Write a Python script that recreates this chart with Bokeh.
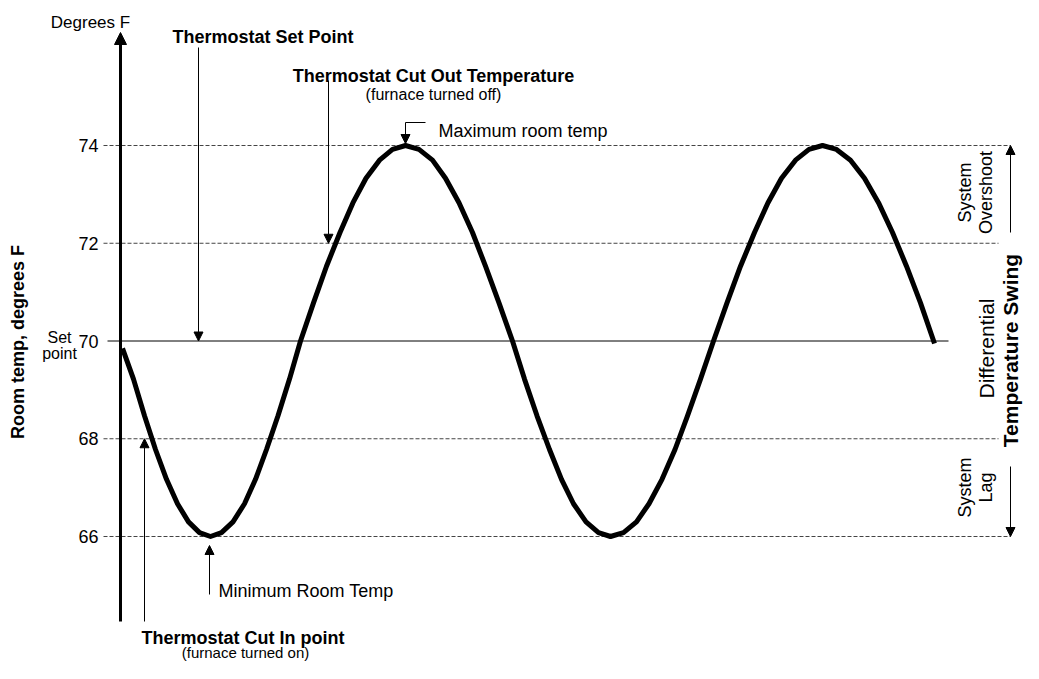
import math
from bokeh.plotting import figure
from bokeh.models import Range1d, Label, Arrow, NormalHead
from bokeh.embed import file_html
from bokeh.resources import INLINE

# ---- data ----
time_min = [2, 13, 24, 35, 46, 57, 68, 79, 90,
            101, 112.5, 124, 135, 146, 157.5, 169, 180,
            193, 206, 219.5, 232.5, 245.5, 259, 272, 285,
            298.5, 312, 325, 338.5, 352, 365, 378.5, 392,
            404, 416.5, 429, 441, 453, 465.5, 478, 490,
            503, 516, 528.5, 541.5, 554.5, 567, 580, 593,
            606.5, 620, 634, 647.5, 661, 675, 688.5, 702,
            716, 730, 744, 758, 772, 786, 800, 814]
room_temp = [69.85, 69.22, 68.47, 67.78, 67.17, 66.67, 66.30, 66.08, 66.00,
             66.08, 66.30, 66.67, 67.17, 67.78, 68.47, 69.22, 70.00,
             70.78, 71.53, 72.22, 72.83, 73.33, 73.70, 73.92, 74.00,
             73.92, 73.70, 73.33, 72.83, 72.22, 71.53, 70.78, 70.00,
             69.22, 68.47, 67.78, 67.17, 66.67, 66.30, 66.08, 66.00,
             66.08, 66.30, 66.67, 67.17, 67.78, 68.47, 69.22, 70.00,
             70.78, 71.53, 72.22, 72.83, 73.33, 73.70, 73.92, 74.00,
             73.92, 73.70, 73.33, 72.83, 72.22, 71.53, 70.78, 69.95]
ref_levels = [74, 72, 68, 66]
set_point = 70
cut_out = 72
cut_in = 68
max_temp = 74
min_temp = 66
tick_values = [74, 72, 70, 68, 66]
tick_labels = ["74", "72", "70", "68", "66"]

# ---- layout helpers (canvas pixel -> data) ----
W, H = 1023, 663
X0 = 120.0
PX_PER_DEG = 48.875
Y70 = 340.5


def tx(X):
    return X - X0


def ty(Y):
    return 70 - (Y - Y70) / PX_PER_DEG


FONT = "Liberation Sans"

p = figure(width=W, height=H,
           x_range=Range1d(tx(0), tx(W)),
           y_range=Range1d(ty(H), ty(0)),
           output_backend="svg", toolbar_location=None,
           x_axis_type=None, y_axis_type=None,
           min_border=0, outline_line_color=None,
           background_fill_color="white", border_fill_color="white")

RX = 1010  # x of the temperature swing arrow

# dashed reference lines
x_ends = [tx(RX) if lv in (max_temp, min_temp) else tx(RX - 12) for lv in ref_levels]
p.segment(x0=[tx(103)] * len(ref_levels), y0=ref_levels,
          x1=x_ends, y1=ref_levels,
          line_color="#444444", line_width=1, line_dash="4 2")
# set point line
p.segment(x0=[tx(107)], y0=[set_point], x1=[tx(948)], y1=[set_point],
          line_color="black", line_width=1)

# temperature curve
p.line(time_min, room_temp, line_color="black", line_width=5,
       line_join="round", line_cap="butt")


def arrow(x0, y0, x1, y1, lw=1, size=9):
    p.add_layout(Arrow(x_start=x0, y_start=y0, x_end=x1, y_end=y1,
                       line_color="black", line_width=lw,
                       end=NormalHead(size=size, fill_color="black",
                                      line_color="black", line_width=1)))


BOTTOM = 621
# vertical axis with arrow
arrow(0, ty(BOTTOM), 0, ty(32), lw=3, size=12)

# annotation arrows
arrow(tx(198), ty(47), tx(198), set_point)          # set point
arrow(tx(328), ty(80), tx(328), cut_out)            # cut out
arrow(tx(144), ty(BOTTOM), tx(144), cut_in)         # cut in
arrow(tx(209), ty(594), tx(209), ty(545))           # minimum
p.segment(x0=[tx(425)], y0=[ty(122)], x1=[tx(405)], y1=[ty(122)],
          line_color="black", line_width=1)
arrow(tx(405), ty(122), tx(405), ty(143))           # maximum
# temperature swing arrows
arrow(tx(RX), ty(232), tx(RX), max_temp)
arrow(tx(RX), ty(466), tx(RX), min_temp)


def label(x, y, text, size="18px", bold=False, align="left",
          baseline="alphabetic", angle=0.0):
    p.add_layout(Label(x=x, y=y, text=text, text_font=FONT,
                       text_font_size=size,
                       text_font_style="bold" if bold else "normal",
                       text_align=align, text_baseline=baseline,
                       text_color="black", angle=angle))


# tick labels
for v, s in zip(tick_values, tick_labels):
    label(tx(98), v, s, size="18px", align="right", baseline="middle")
label(tx(59), ty(337), "Set", size="16px", align="center")
label(tx(59), ty(353), "point", size="16px", align="center")

label(tx(90), ty(22), "Degrees F", size="17px", align="center")
label(tx(17), ty(339), "Room temp, degrees  F", size="18px", bold=True,
      align="center", baseline="middle", angle=math.pi / 2)

label(tx(172), ty(36), "Thermostat Set Point", bold=True)
label(tx(433), ty(75), "Thermostat Cut Out Temperature", bold=True, align="center")
label(tx(433), ty(94), "(furnace turned off)", size="16px", align="center")
label(tx(438), ty(130), "Maximum room temp")
label(tx(218), ty(590), "Minimum Room Temp")
label(tx(245), ty(637), "Thermostat Cut In  point", bold=True, align="center")
label(tx(245), ty(652), "(furnace turned on)", size="15px", align="center")

# right side labels (rotated)
ang = math.pi / 2
label(tx(964), ty(192), "System", size="18px", align="center", baseline="middle", angle=ang)
label(tx(985), ty(192), "Overshoot", size="18px", align="center", baseline="middle", angle=ang)
label(tx(986), ty(348), "Differential", size="21px", align="center", baseline="middle", angle=ang)
label(tx(964), ty(487), "System", size="18px", align="center", baseline="middle", angle=ang)
label(tx(985), ty(487), "Lag", size="18px", align="center", baseline="middle", angle=ang)
label(tx(RX), ty(350), "Temperature Swing", size="21px", bold=True,
      align="center", baseline="middle", angle=ang)

open("out.html", "w").write(file_html(p, INLINE))
